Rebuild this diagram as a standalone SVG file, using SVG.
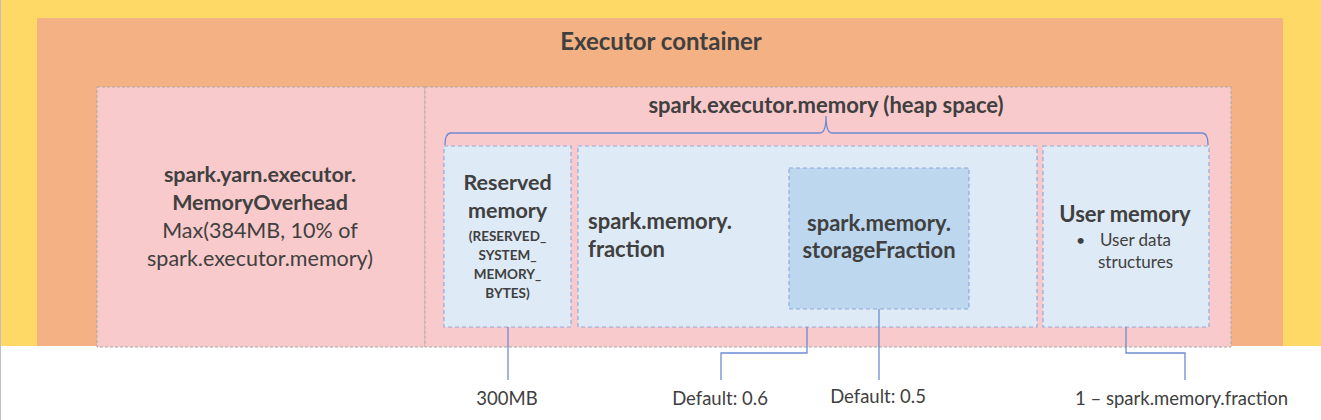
<svg xmlns="http://www.w3.org/2000/svg" width="1321" height="420" viewBox="0 0 1321 420">
<defs>
<style>
text{font-family:Lato,"Open Sans","Liberation Sans",sans-serif;fill:#404040}
.b{font-weight:bold}
.c{text-anchor:middle}
.pinkbox{fill:#F9CACB;stroke:#A9A9A9;stroke-width:1;stroke-dasharray:3 2}
.blue{fill:#DEEAF6;stroke:#8FAADC;stroke-width:1.2;stroke-dasharray:4 3}
.blue2{fill:#BDD7EE;stroke:#8FAADC;stroke-width:1.2;stroke-dasharray:4 3}
.con{fill:none;stroke:#6E8BD2;stroke-width:1.3}
</style>
</defs>
<rect x="0" y="0" width="1321" height="420" fill="#FFFFFF"/>
<rect x="0" y="0" width="1321" height="346" fill="#FFD966"/>
<line x1="0.5" y1="0" x2="0.5" y2="420" stroke="#C0C0C0" stroke-width="1"/>
<g id="executor-container">
<rect x="37" y="18" width="1246" height="328" fill="#F4B183"/>
<text class="b c" x="661" y="50" font-size="24">Executor container</text>
</g>
<g id="memory-overhead">
<rect class="pinkbox" x="97" y="87" width="328" height="260"/>
<text class="b c" x="260" y="182" font-size="21.5">spark.yarn.executor.</text>
<text class="b c" x="260" y="210" font-size="21.5">MemoryOverhead</text>
<text class="c" x="260" y="238" font-size="21.5">Max(384MB, 10% of</text>
<text class="c" x="260" y="266" font-size="21.5">spark.executor.memory)</text>
</g>
<g id="heap-space">
<rect class="pinkbox" x="425" y="87" width="806" height="260"/>
<text class="b c" x="826" y="113" font-size="22">spark.executor.memory (heap space)</text>
</g>
<g id="reserved-memory">
<rect class="blue" x="444" y="146" width="127" height="181"/>
<text class="b c" x="507.5" y="190" font-size="21.5">Reserved</text>
<text class="b c" x="507.5" y="218" font-size="21.5">memory</text>
<text class="b c" x="507.5" y="241" font-size="13.5">(RESERVED_</text>
<text class="b c" x="507.5" y="260" font-size="13.5">SYSTEM_</text>
<text class="b c" x="507.5" y="279" font-size="13.5">MEMORY_</text>
<text class="b c" x="507.5" y="298" font-size="13.5">BYTES)</text>
</g>
<g id="memory-fraction">
<rect class="blue" x="578" y="146" width="459" height="181"/>
<text class="b" x="588" y="229" font-size="22">spark.memory.</text>
<text class="b" x="588" y="257" font-size="22">fraction</text>
</g>
<g id="storage-fraction">
<rect class="blue2" x="789" y="168" width="180" height="141"/>
<text class="b c" x="879" y="231" font-size="22">spark.memory.</text>
<text class="b c" x="879" y="258" font-size="22">storageFraction</text>
</g>
<g id="user-memory">
<rect class="blue" x="1043" y="146" width="166" height="181"/>
<text class="b c" x="1125" y="222" font-size="22">User memory</text>
<text x="1076" y="246" font-size="16">•</text>
<text class="c" x="1135.5" y="246" font-size="17">User data</text>
<text class="c" x="1135.5" y="268" font-size="17">structures</text>
</g>
<g id="connectors">
<path class="con" d="M445,145 Q445,133 451,133 L820,133 Q826,133 826,116 Q826,133 832,133 L1202,133 Q1208,133 1208,145"/>
<path class="con" d="M508,327 V380"/>
<path class="con" d="M807,327 V353 H721 V380"/>
<path class="con" d="M879,309 V380"/>
<path class="con" d="M1126,327 V353 H1185 V380"/>
</g>
<g id="labels">
<text class="c" x="507" y="405" font-size="18.5">300MB</text>
<text class="c" x="720" y="405" font-size="18.5">Default: 0.6</text>
<text class="c" x="878" y="403" font-size="18.5">Default: 0.5</text>
<text class="c" x="1181.5" y="405" font-size="18.5">1 – spark.memory.fraction</text>
</g>
</svg>
